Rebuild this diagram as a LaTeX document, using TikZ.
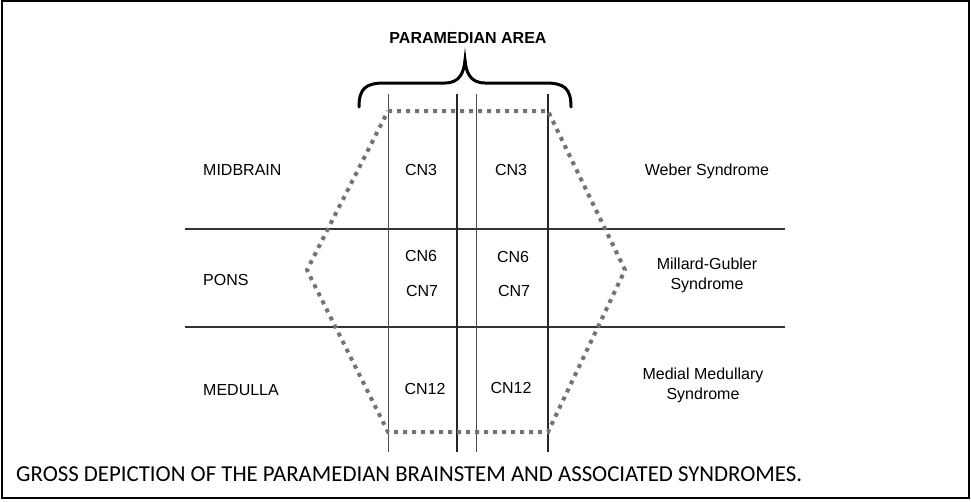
\documentclass[tikz,border=0pt]{standalone}
\usepackage{fontspec}
\setmainfont{Liberation Sans}
\newfontfamily\capfont{Carlito}
\usepackage{tikz}

\begin{document}
\begin{tikzpicture}[
    x=1pt, y=-1pt,
    every node/.style={font=\fontsize{16}{20}\selectfont, inner sep=0pt},
    divider/.style={line width=2pt, black!80},
    midline/.style={line width=1.8pt, black!85},
    sideline/.style={line width=0.9pt, black!70},
    outline/.style={black!55, line width=4pt, dash pattern=on 4pt off 5pt},
    region/.style={anchor=west},
    syndrome/.style={align=center}
]
\useasboundingbox (0,0) rectangle (971,501);
\draw[line width=2pt] (2,1) rectangle (969,498);

% levels of the brainstem
\draw[divider] (185,229) -- (785,229);
\draw[divider] (185,327) -- (785,327);

% paramedian columns
\draw[sideline] (388,94) -- (388,452);
\draw[midline]  (457,94) -- (457,452);
\draw[sideline] (476,94) -- (476,452);
\draw[midline]  (548,94) -- (548,452);

% paramedian zone
\draw[outline] (388,111) -- (548,111) -- (625,270) -- (548,432)
    -- (388,432) -- (307,270) -- cycle;

% brace
\draw[line width=3pt, line cap=round] (359,107)
    .. controls (359,88) and (366,83) .. (385,83) -- (445,83)
    .. controls (460,83) and (464,72) .. (465,60)
    .. controls (466,72) and (470,83) .. (485,83) -- (545,83)
    .. controls (564,83) and (571,88) .. (571,107);
\node[font=\bfseries\fontsize{16}{20}\selectfont] (title) at (468,38) {PARAMEDIAN AREA};

\node[region] (midbrain) at (203,170) {MIDBRAIN};
\node[region] (pons)     at (203,280) {PONS};
\node[region] (medulla)  at (203,390) {MEDULLA};

\node (cn3l)  at (421,170) {CN3};
\node (cn3r)  at (511,170) {CN3};
\node (cn6l)  at (421,256) {CN6};
\node (cn6r)  at (513,257) {CN6};
\node (cn7l)  at (422,291) {CN7};
\node (cn7r)  at (514,291) {CN7};
\node (cn12l) at (425,389) {CN12};
\node (cn12r) at (511,388) {CN12};

\node[syndrome] (weber)   at (707,171) {Weber Syndrome};
\node[syndrome] (millard) at (707,275) {Millard-Gubler\\Syndrome};
\node[syndrome] (medial)  at (703,385) {Medial Medullary\\Syndrome};

\node[anchor=base west, font=\capfont\fontsize{22.8}{26}\selectfont] (caption) at (16,481)
    {GROSS DEPICTION OF THE PARAMEDIAN BRAINSTEM AND ASSOCIATED SYNDROMES.};
\end{tikzpicture}
\end{document}
